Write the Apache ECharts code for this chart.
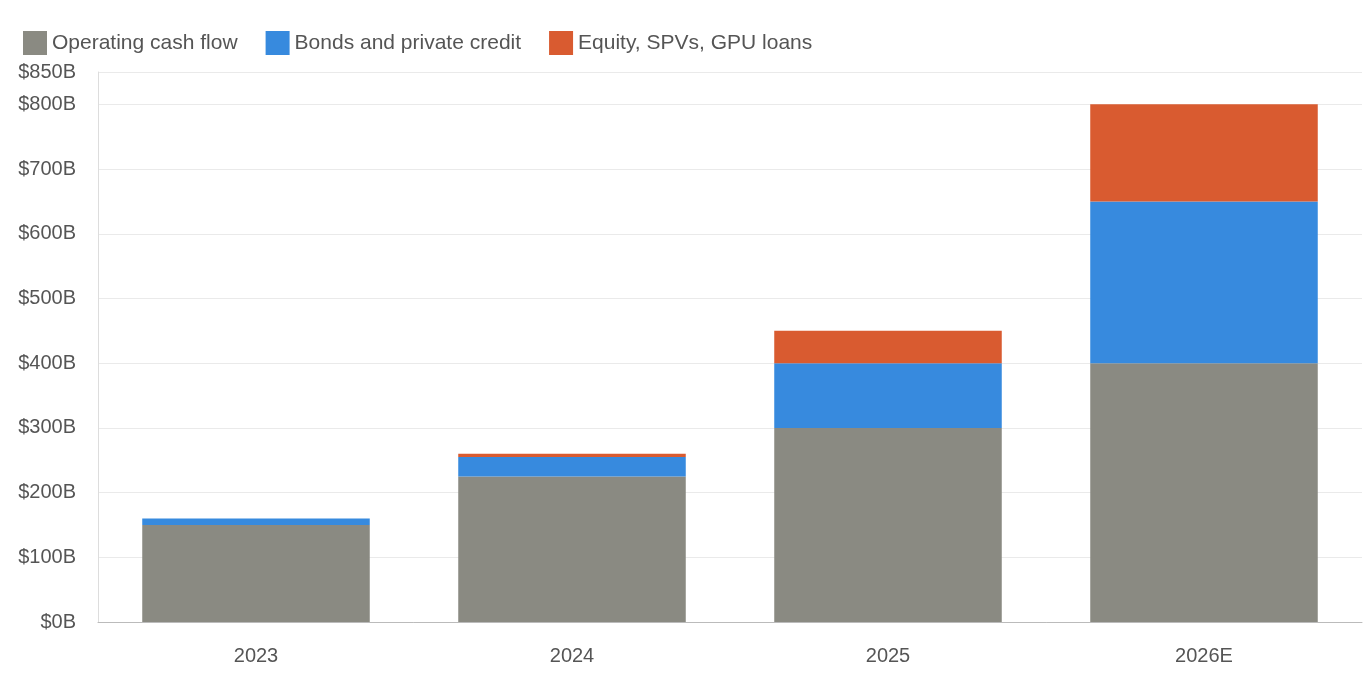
<!DOCTYPE html>
<html><head><meta charset="utf-8">
<script src="https://cdn.jsdelivr.net/npm/echarts@6/dist/echarts.min.js"></script>
<style>html,body{margin:0;padding:0;background:#fff}#c{width:1364px;height:680px}</style>
</head><body><div id="c"></div>
<script>
const categories = ["2023","2024","2025","2026E"];
const operating = [150,225,300,400];
const bonds = [10,30,100,250];
const equity = [0,5,50,150];
const chart = echarts.init(document.getElementById('c'));
const font = 'Helvetica, Arial, "Liberation Sans", sans-serif';
chart.setOption({
  animation:false,
  textStyle:{fontFamily:font},
  legend:{left:18,top:26,itemWidth:24,itemHeight:24,itemGap:28,icon:'rect',
    textStyle:{fontSize:21,color:'#555',fontFamily:font}},
  grid:{left:98,right:2,top:72,bottom:58},
  xAxis:{type:'category',data:categories,
    axisLine:{lineStyle:{color:'#bbb'}},axisTick:{show:false},
    axisLabel:{fontSize:20,color:'#555',margin:24}},
  yAxis:{type:'value',min:0,max:850,interval:100,
    axisLine:{show:true,lineStyle:{color:'#ddd'}},
    splitLine:{lineStyle:{color:'#eaeaea'}},
    axisLabel:{fontSize:20,color:'#555',margin:22,formatter:v=>'$'+v+'B'}},
  series:[
    {name:'Operating cash flow',type:'bar',stack:'s',data:operating,barWidth:'72%',itemStyle:{color:'#8a8a82'}},
    {name:'Bonds and private credit',type:'bar',stack:'s',data:bonds,itemStyle:{color:'#378ade'}},
    {name:'Equity, SPVs, GPU loans',type:'bar',stack:'s',data:equity,itemStyle:{color:'#d95b30'}}
  ]
});
</script></body></html>
